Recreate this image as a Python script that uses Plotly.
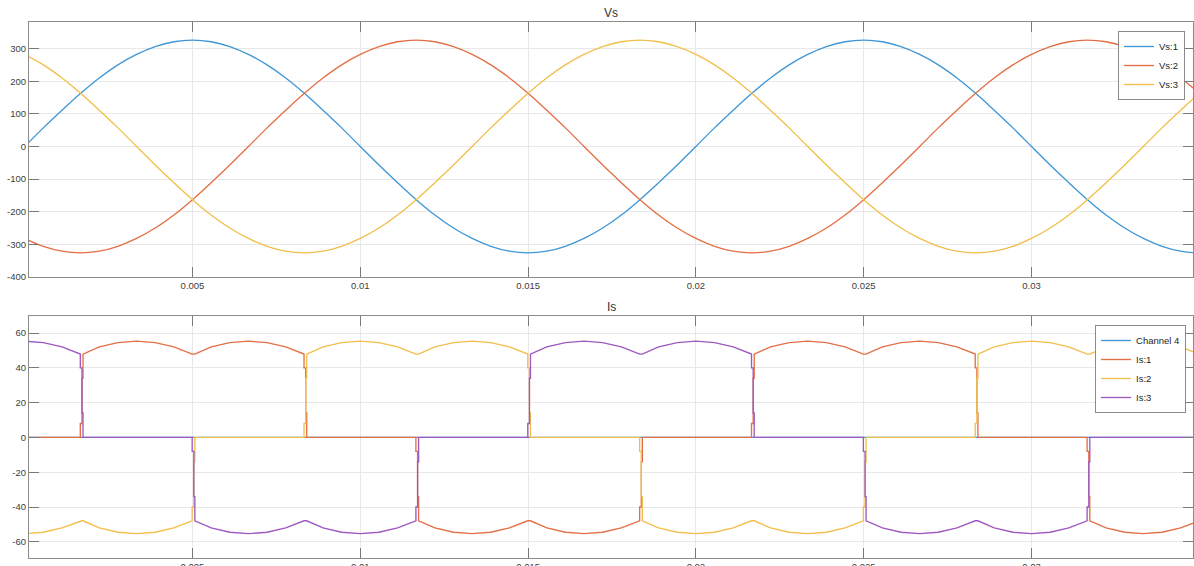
import plotly.graph_objects as go

# ---------------- data ----------------
# Source voltages, sampled every 1/1800 s (10 deg at 50 Hz), starting at t = 0
SAMPLE_DT = 1 / 1800
VS1 = [0, 57, 111, 163, 210, 250, 282, 306, 321, 326, 321, 306, 282, 250, 210, 163, 111, 57,
       0, -57, -111, -163, -210, -250, -282, -306, -321, -326, -321, -306, -282, -250, -210, -163, -111, -57,
       0, 57, 111, 163, 210, 250, 282, 306, 321, 326, 321, 306, 282, 250, 210, 163, 111, 57,
       0, -57, -111, -163, -210, -250, -282, -306, -321, -326, -321]
VS2 = [-282, -306, -321, -326, -321, -306, -282, -250, -210, -163, -111, -57,
       0, 57, 111, 163, 210, 250, 282, 306, 321, 326, 321, 306, 282, 250, 210, 163, 111, 57,
       0, -57, -111, -163, -210, -250, -282, -306, -321, -326, -321, -306, -282, -250, -210, -163, -111, -57,
       0, 57, 111, 163, 210, 250, 282, 306, 321, 326, 321, 306, 282, 250, 210, 163, 111]
VS3 = [282, 250, 210, 163, 111, 57, 0, -57, -111, -163, -210, -250,
       -282, -306, -321, -326, -321, -306, -282, -250, -210, -163, -111, -57,
       0, 57, 111, 163, 210, 250, 282, 306, 321, 326, 321, 306, 282, 250, 210, 163, 111, 57,
       0, -57, -111, -163, -210, -250, -282, -306, -321, -326, -321, -306, -282, -250, -210, -163, -111, -57,
       0, 57, 111, 163, 210]

# Line currents (time in s)
T_I = [0.0, 0.000556, 0.001111,
       0.001657, 0.001657, 0.001707, 0.001707, 0.001737, 0.001737,
       0.002222, 0.002778, 0.003333, 0.003889, 0.004444,
       0.00499, 0.00499, 0.00504, 0.00504, 0.00507, 0.00507,
       0.005556, 0.006111, 0.006667, 0.007222, 0.007778,
       0.008323, 0.008323, 0.008373, 0.008373, 0.008403, 0.008403,
       0.008889, 0.009444, 0.01, 0.010556, 0.011111,
       0.011657, 0.011657, 0.011707, 0.011707, 0.011737, 0.011737,
       0.012222, 0.012778, 0.013333, 0.013889, 0.014444,
       0.01499, 0.01499, 0.01504, 0.01504, 0.01507, 0.01507,
       0.015556, 0.016111, 0.016667, 0.017222, 0.017778,
       0.018323, 0.018323, 0.018373, 0.018373, 0.018403, 0.018403,
       0.018889, 0.019444, 0.02, 0.020556, 0.021111,
       0.021657, 0.021657, 0.021707, 0.021707, 0.021737, 0.021737,
       0.022222, 0.022778, 0.023333, 0.023889, 0.024444,
       0.02499, 0.02499, 0.02504, 0.02504, 0.02507, 0.02507,
       0.025556, 0.026111, 0.026667, 0.027222, 0.027778,
       0.028323, 0.028323, 0.028373, 0.028373, 0.028403, 0.028403,
       0.028889, 0.029444, 0.03, 0.030556, 0.031111,
       0.031657, 0.031657, 0.031707, 0.031707, 0.031737, 0.031737,
       0.032222, 0.032778, 0.033333, 0.033889, 0.034444, 0.035]
IS1 = [0, 0, 0,
       0, 8, 8, 34, 34, 47.9,
       52.0, 54.5, 55.3, 54.5, 52.0,
       47.9, 47.9, 47.9, 47.9, 47.9, 47.9,
       52.0, 54.5, 55.3, 54.5, 52.0,
       47.9, 40, 40, 14, 14, 0,
       0, 0, 0, 0, 0,
       0, -8, -8, -34, -34, -47.9,
       -52.0, -54.5, -55.3, -54.5, -52.0,
       -47.9, -47.9, -47.9, -47.9, -47.9, -47.9,
       -52.0, -54.5, -55.3, -54.5, -52.0,
       -47.9, -40, -40, -14, -14, 0,
       0, 0, 0, 0, 0,
       0, 8, 8, 34, 34, 47.9,
       52.0, 54.5, 55.3, 54.5, 52.0,
       47.9, 47.9, 47.9, 47.9, 47.9, 47.9,
       52.0, 54.5, 55.3, 54.5, 52.0,
       47.9, 40, 40, 14, 14, 0,
       0, 0, 0, 0, 0,
       0, -8, -8, -34, -34, -47.9,
       -52.0, -54.5, -55.3, -54.5, -52.0, -47.9]
IS2 = [-55.3, -54.5, -52.0,
       -47.9, -47.9, -47.9, -47.9, -47.9, -47.9,
       -52.0, -54.5, -55.3, -54.5, -52.0,
       -47.9, -40, -40, -14, -14, 0,
       0, 0, 0, 0, 0,
       0, 8, 8, 34, 34, 47.9,
       52.0, 54.5, 55.3, 54.5, 52.0,
       47.9, 47.9, 47.9, 47.9, 47.9, 47.9,
       52.0, 54.5, 55.3, 54.5, 52.0,
       47.9, 40, 40, 14, 14, 0,
       0, 0, 0, 0, 0,
       0, -8, -8, -34, -34, -47.9,
       -52.0, -54.5, -55.3, -54.5, -52.0,
       -47.9, -47.9, -47.9, -47.9, -47.9, -47.9,
       -52.0, -54.5, -55.3, -54.5, -52.0,
       -47.9, -40, -40, -14, -14, 0,
       0, 0, 0, 0, 0,
       0, 8, 8, 34, 34, 47.9,
       52.0, 54.5, 55.3, 54.5, 52.0,
       47.9, 47.9, 47.9, 47.9, 47.9, 47.9,
       52.0, 54.5, 55.3, 54.5, 52.0, 47.9]
IS3 = [55.3, 54.5, 52.0,
       47.9, 40, 40, 14, 14, 0,
       0, 0, 0, 0, 0,
       0, -8, -8, -34, -34, -47.9,
       -52.0, -54.5, -55.3, -54.5, -52.0,
       -47.9, -47.9, -47.9, -47.9, -47.9, -47.9,
       -52.0, -54.5, -55.3, -54.5, -52.0,
       -47.9, -40, -40, -14, -14, 0,
       0, 0, 0, 0, 0,
       0, 8, 8, 34, 34, 47.9,
       52.0, 54.5, 55.3, 54.5, 52.0,
       47.9, 47.9, 47.9, 47.9, 47.9, 47.9,
       52.0, 54.5, 55.3, 54.5, 52.0,
       47.9, 40, 40, 14, 14, 0,
       0, 0, 0, 0, 0,
       0, -8, -8, -34, -34, -47.9,
       -52.0, -54.5, -55.3, -54.5, -52.0,
       -47.9, -47.9, -47.9, -47.9, -47.9, -47.9,
       -52.0, -54.5, -55.3, -54.5, -52.0,
       -47.9, -40, -40, -14, -14, 0,
       0, 0, 0, 0, 0, 0]
T_CH4 = [0.0, 0.035]
CH4 = [0, 0]

X_TICKS = [0.005, 0.01, 0.015, 0.02, 0.025, 0.03]
X_TICKTEXT = ["0.005", "0.01", "0.015", "0.02", "0.025", "0.03"]
VS_TICKS = [-400, -300, -200, -100, 0, 100, 200, 300]
VS_TICKTEXT = ["-400", "-300", "-200", "-100", "0", "100", "200", "300"]
IS_TICKS = [-60, -40, -20, 0, 20, 40, 60]
IS_TICKTEXT = ["-60", "-40", "-20", "0", "20", "40", "60"]

# ---------------- styling ----------------
C_BLUE = "#3F97D6"
C_ORANGE = "#E46F45"
C_YELLOW = "#F1BF4A"
C_PURPLE = "#9E58C0"
FONT = "Liberation Sans, Arial, Helvetica, sans-serif"
LW = 1.35

fig = go.Figure()
for name, vals, col in [("Vs:1", VS1, C_BLUE), ("Vs:2", VS2, C_ORANGE), ("Vs:3", VS3, C_YELLOW)]:
    fig.add_trace(go.Scatter(y=vals, x0=0, dx=SAMPLE_DT, mode="lines", name=name,
                             line=dict(color=col, width=LW, shape="spline", smoothing=1.0),
                             xaxis="x", yaxis="y", legend="legend"))

fig.add_trace(go.Scatter(x=T_CH4, y=CH4, mode="lines", name="Channel 4",
                         line=dict(color=C_BLUE, width=LW), xaxis="x2", yaxis="y2", legend="legend2"))
for name, vals, col in [("Is:1", IS1, C_ORANGE), ("Is:2", IS2, C_YELLOW), ("Is:3", IS3, C_PURPLE)]:
    fig.add_trace(go.Scatter(x=T_I, y=vals, mode="lines", name=name,
                             line=dict(color=col, width=LW), xaxis="x2", yaxis="y2", legend="legend2"))

X_RANGE = [0.000128, 0.034812]
axis_common = dict(ticks="inside", ticklen=10, tickcolor="#7a7a7a", tickwidth=1,
                   showline=True, linecolor="#8c8c8c", linewidth=1, mirror="ticks",
                   showgrid=True, gridcolor="#e8e8e8", gridwidth=1, zeroline=False,
                   automargin=False,
                   tickfont=dict(family=FONT, size=9.5, color="#404040"))

fig.update_layout(
    width=1194, height=566, autosize=False,
    margin=dict(l=29, r=1, t=22, b=8, pad=0),
    paper_bgcolor="white", plot_bgcolor="white",
    font=dict(family=FONT, size=9.5, color="#262626"),
    showlegend=True,
    xaxis=dict(domain=[0, 1], anchor="y", range=X_RANGE, tickmode="array",
               tickvals=X_TICKS, ticktext=X_TICKTEXT, **axis_common),
    yaxis=dict(domain=[0.5243, 1], anchor="x", range=[-400, 381.5], tickmode="array",
               tickvals=VS_TICKS, ticktext=VS_TICKTEXT, **axis_common),
    xaxis2=dict(domain=[0, 1], anchor="y2", range=X_RANGE, tickmode="array",
                tickvals=X_TICKS, ticktext=X_TICKTEXT, **axis_common),
    yaxis2=dict(domain=[0, 0.4506], anchor="x2", range=[-69.3, 69.5], tickmode="array",
                tickvals=IS_TICKS, ticktext=IS_TICKTEXT, **axis_common),
    legend=dict(x=0.9931, y=0.9832, xanchor="right", yanchor="top", bgcolor="white",
                bordercolor="#8a8a8a", borderwidth=1, tracegroupgap=0, itemwidth=30,
                font=dict(family=FONT, size=9.5, color="#262626")),
    legend2=dict(x=0.994, y=0.4347, xanchor="right", yanchor="top", bgcolor="white",
                 bordercolor="#8a8a8a", borderwidth=1, tracegroupgap=0, itemwidth=30,
                 font=dict(family=FONT, size=9.5, color="#262626")),
    annotations=[
        dict(text="Vs", x=0.5, y=1.0168, xref="paper", yref="paper", xanchor="center",
             yanchor="middle", showarrow=False, font=dict(family=FONT, size=12, color="#333333")),
        dict(text="Is", x=0.5, y=0.4683, xref="paper", yref="paper", xanchor="center",
             yanchor="middle", showarrow=False, font=dict(family=FONT, size=12, color="#333333")),
    ],
)

fig.write_html("out.html", config={"displayModeBar": False})
